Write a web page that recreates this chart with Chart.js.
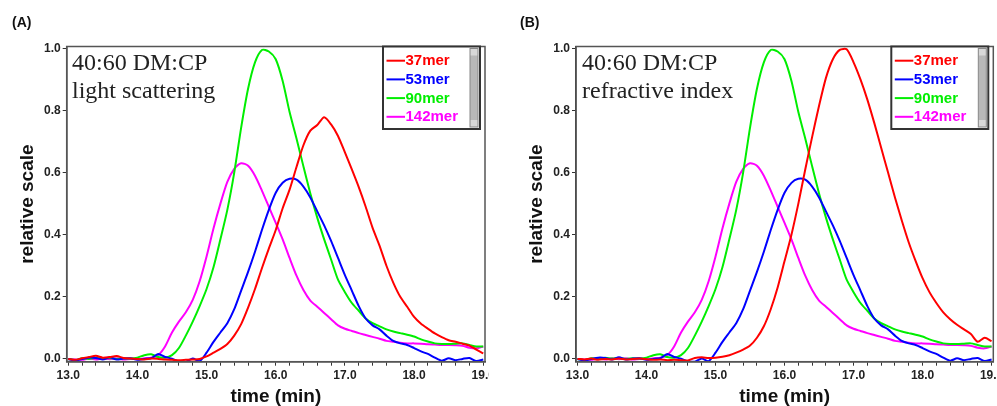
<!DOCTYPE html>
<html>
<head>
<meta charset="utf-8">
<script src="https://cdn.jsdelivr.net/npm/chart.js@4.4.0/dist/chart.umd.min.js"></script>
<style>
  body { margin: 0; background: #fff; width: 997px; height: 406px; overflow: hidden; position: relative; font-family: "Liberation Sans", Arial, sans-serif; }
  .panel { position: absolute; top: 0; height: 406px; overflow: hidden; }
  .tag { position: absolute; top: 14px; font-weight: bold; font-size: 14px; line-height: 17px; color: #111; }
  .note { position: absolute; top: 48px; font-family: "Liberation Serif", "Times New Roman", serif; font-size: 24px; line-height: 28px; color: #222; white-space: nowrap; }
</style>
</head>
<body>
<div class="panel" style="left:0;width:489px"><canvas id="chartA" width="520" height="406"></canvas></div>
<div class="panel" style="left:500px;width:497px"><canvas id="chartB" width="520" height="406"></canvas></div>
<div class="tag" style="left:12px">(A)</div>
<div class="tag" style="left:520px">(B)</div>
<div class="note" style="left:72px">40:60 DM:CP<br>light scattering</div>
<div class="note" style="left:582px">40:60 DM:CP<br>refractive index</div>
<script>
// elution time (min)
const times = [13.0, 13.1, 13.2, 13.3, 13.4, 13.5, 13.6, 13.7, 13.8, 13.9,
  14.0, 14.1, 14.2, 14.3, 14.4, 14.5, 14.6, 14.7, 14.8, 14.9,
  15.0, 15.1, 15.2, 15.3, 15.4, 15.5, 15.6, 15.7, 15.8, 15.9,
  16.0, 16.1, 16.2, 16.3, 16.4, 16.5, 16.6, 16.7, 16.8, 16.9,
  17.0, 17.1, 17.2, 17.3, 17.4, 17.5, 17.6, 17.7, 17.8, 17.9,
  18.0, 18.1, 18.2, 18.3, 18.4, 18.5, 18.6, 18.7, 18.8, 18.9, 19.0];

const names = ["37mer", "53mer", "90mer", "142mer"];
const colors = ["#ff0000", "#0000ff", "#00ee00", "#ff00ff"];

// 37mer, light scattering (A)
const red37LS = [0.000, -0.003, 0.002, 0.006, 0.010, 0.004, 0.006, 0.009, 0.003, 0.001,
  0.000, -0.002, 0.001, 0.000, -0.002, -0.003, -0.004, -0.003, -0.002, 0.000,
  0.008, 0.020, 0.032, 0.048, 0.075, 0.112, 0.165, 0.225, 0.292, 0.355,
  0.415, 0.485, 0.545, 0.618, 0.688, 0.735, 0.753, 0.778, 0.755, 0.718,
  0.665, 0.610, 0.553, 0.490, 0.422, 0.365, 0.300, 0.245, 0.200, 0.168,
  0.135, 0.113, 0.097, 0.082, 0.070, 0.060, 0.055, 0.049, 0.043, 0.030, 0.018];
// 37mer, refractive index (B)
const red37RI = [0.000, -0.002, 0.001, -0.003, 0.000, -0.002, 0.001, -0.002, 0.000, 0.001,
  -0.001, -0.003, -0.002, -0.004, -0.003, -0.004, -0.005, 0.003, 0.005, 0.003,
  0.004, 0.007, 0.012, 0.020, 0.030, 0.043, 0.068, 0.105, 0.160, 0.230,
  0.315, 0.400, 0.500, 0.610, 0.715, 0.815, 0.905, 0.965, 0.995, 0.997,
  0.955, 0.900, 0.835, 0.760, 0.680, 0.600, 0.520, 0.445, 0.375, 0.315,
  0.260, 0.215, 0.180, 0.150, 0.128, 0.110, 0.095, 0.080, 0.055, 0.068, 0.057];
// these three look the same in both panels
const blue53 = [0.000, -0.005, 0.000, 0.004, 0.003, -0.002, 0.005, -0.002, 0.001, 0.002,
  -0.003, 0.000, 0.002, 0.016, 0.006, 0.001, -0.008, -0.009, 0.001, -0.007,
  0.020, 0.055, 0.085, 0.115, 0.160, 0.220, 0.280, 0.345, 0.415, 0.480,
  0.535, 0.567, 0.580, 0.577, 0.555, 0.520, 0.475, 0.430, 0.380, 0.325,
  0.270, 0.220, 0.170, 0.130, 0.108, 0.095, 0.075, 0.058, 0.050, 0.045,
  0.035, 0.024, 0.016, 0.004, -0.006, 0.002, -0.004, 0.000, 0.003, -0.007, -0.002];
const green90 = [0.000, -0.004, 0.002, 0.000, 0.004, 0.001, 0.003, 0.000, 0.002, 0.001,
  0.004, 0.012, 0.015, 0.006, 0.004, 0.012, 0.035, 0.075, 0.120, 0.170,
  0.225, 0.295, 0.385, 0.480, 0.600, 0.745, 0.870, 0.955, 0.995, 0.990,
  0.965, 0.895, 0.795, 0.710, 0.620, 0.533, 0.455, 0.385, 0.320, 0.255,
  0.215, 0.180, 0.155, 0.130, 0.115, 0.105, 0.095, 0.088, 0.083, 0.078,
  0.072, 0.063, 0.056, 0.050, 0.048, 0.048, 0.049, 0.050, 0.045, 0.040, 0.040];
const magenta142 = [0.000, -0.002, -0.003, 0.001, -0.002, 0.002, -0.001, 0.002, -0.002, 0.000,
  -0.001, 0.002, 0.004, 0.012, 0.040, 0.085, 0.120, 0.150, 0.190, 0.250,
  0.330, 0.420, 0.500, 0.570, 0.612, 0.630, 0.622, 0.590, 0.542, 0.490,
  0.438, 0.385, 0.325, 0.268, 0.222, 0.188, 0.168, 0.148, 0.128, 0.108,
  0.097, 0.090, 0.083, 0.077, 0.071, 0.065, 0.058, 0.055, 0.052, 0.050,
  0.050, 0.049, 0.047, 0.046, 0.045, 0.045, 0.044, 0.042, 0.036, 0.034, 0.040];

const xLabels = [13, 14, 15, 16, 17, 18, 19];
const yLabels = [0, 0.2, 0.4, 0.6, 0.8, 1.0];

function pts(vals) {
  return times.map((t, i) => ({ x: t, y: vals[i] }));
}

// plot frame + the boxed legend with its little scrollbar
const frameAndLegend = {
  id: "frameAndLegend",
  afterDatasetsDraw(chart) {
    const { ctx, chartArea: a } = chart;
    ctx.save();
    ctx.strokeStyle = "#555";
    ctx.lineWidth = 1.5;
    ctx.strokeRect(a.left, a.top, a.right - a.left, a.bottom - a.top);

    const w = 97, h = 82.5;
    const bx = a.right - 5 - w, by = a.top;
    ctx.fillStyle = "#fff";
    ctx.fillRect(bx, by, w, h);
    ctx.fillStyle = "#b8b8b8";
    ctx.fillRect(bx + w - 10, by + 2, 8, h - 4);
    ctx.fillStyle = "#d8d8d8";
    ctx.fillRect(bx + w - 10, by + 2, 8, 7);
    ctx.fillRect(bx + w - 10, by + h - 9, 8, 7);
    ctx.strokeStyle = "#888";
    ctx.lineWidth = 1;
    ctx.strokeRect(bx + w - 10, by + 2, 8, h - 4);
    ctx.strokeStyle = "#333";
    ctx.lineWidth = 2;
    ctx.strokeRect(bx, by, w, h);

    ctx.font = "bold 15px 'Liberation Sans', Arial, sans-serif";
    ctx.textBaseline = "middle";
    chart.data.datasets.forEach((ds, i) => {
      const y = by + 14.2 + i * 18.7;
      ctx.strokeStyle = ds.borderColor;
      ctx.lineWidth = 2;
      ctx.beginPath();
      ctx.moveTo(bx + 3.5, y);
      ctx.lineTo(bx + 22, y);
      ctx.stroke();
      ctx.fillStyle = ds.borderColor;
      ctx.fillText(ds.label, bx + 22.5, y + 0.5);
    });
    ctx.restore();
  }
};

function makeChart(id, red, plotLeft, plotRight) {
  const series = [red, blue53, green90, magenta142];
  return new Chart(document.getElementById(id), {
    type: "line",
    data: {
      datasets: series.map((s, i) => ({
        label: names[i],
        data: pts(s),
        borderColor: colors[i],
        backgroundColor: colors[i],
      })),
    },
    options: {
      responsive: false,
      animation: false,
      layout: { padding: { left: 0, right: 520 - plotRight, top: 46.5, bottom: 0 } },
      elements: { point: { radius: 0 }, line: { borderWidth: 2, tension: 0.25 } },
      plugins: { legend: { display: false }, tooltip: { enabled: false } },
      scales: {
        x: {
          type: "linear",
          min: 12.978,
          max: 19.025,
          afterFit(s) { s.height = 44.3; s.paddingLeft = 0; s.paddingRight = 0; },
          afterBuildTicks(s) {
            const t = [];
            for (let v = 13; v <= 19.0001; v += 0.2) t.push({ value: Math.round(v * 10) / 10 });
            s.ticks = t;
          },
          ticks: {
            autoSkip: false,
            maxRotation: 0,
            padding: 3,
            color: "#222",
            font: { family: "'Liberation Sans', Arial", size: 12, weight: "bold" },
            callback: (v) => (xLabels.includes(Math.round(v * 10) / 10) ? v.toFixed(1) : ""),
          },
          grid: { drawOnChartArea: false, tickLength: 4, color: "#333" },
          border: { color: "#333", width: 1.5 },
          title: {
            display: true,
            text: "time (min)",
            color: "#111",
            padding: 0,
            font: { family: "'Liberation Sans', Arial", size: 19, weight: "bold", lineHeight: 1 },
          },
        },
        y: {
          min: -0.009,
          max: 1.006,
          afterFit(s) { s.width = plotLeft; s.paddingTop = 0; s.paddingBottom = 0; },
          afterBuildTicks(s) { s.ticks = yLabels.map((v) => ({ value: v })); },
          ticks: {
            padding: 2,
            color: "#222",
            font: { family: "'Liberation Sans', Arial", size: 12, weight: "bold" },
            callback: (v) => v.toFixed(1),
          },
          grid: { drawOnChartArea: false, tickLength: 4, color: "#333" },
          border: { color: "#333", width: 1.5 },
          title: {
            display: true,
            text: "relative scale",
            color: "#111",
            padding: { top: plotLeft - 48.7, bottom: 0 },
            font: { family: "'Liberation Sans', Arial", size: 19, weight: "bold", lineHeight: 1 },
          },
        },
      },
    },
    plugins: [frameAndLegend],
  });
}

makeChart("chartA", red37LS, 66.7, 485);
makeChart("chartB", red37RI, 76, 493.3);
</script>
</body>
</html>
